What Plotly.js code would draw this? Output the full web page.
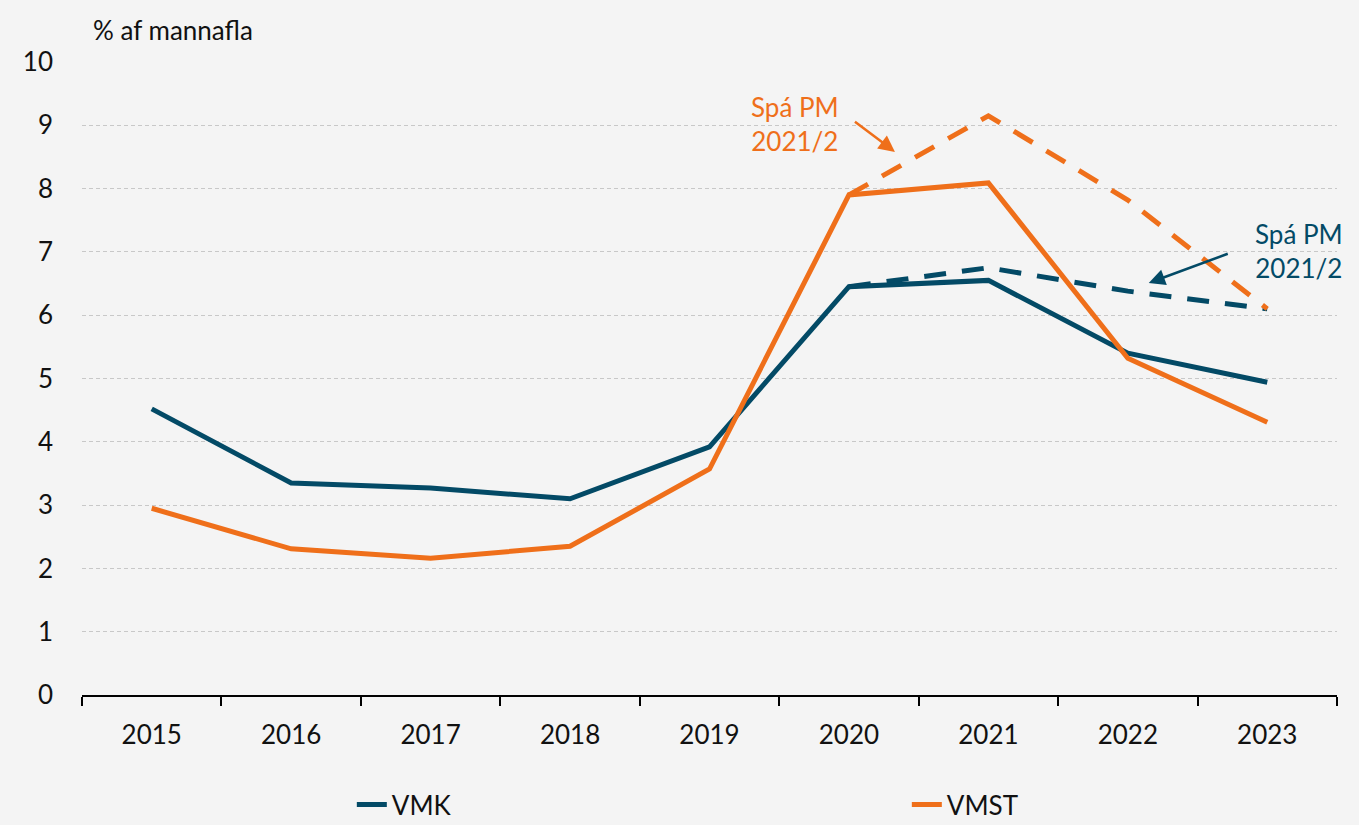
<!DOCTYPE html>
<html>
<head>
<meta charset="utf-8">
<script src="https://cdn.plot.ly/plotly-3.0.1.min.js"></script>
<style>html,body{margin:0;padding:0;background:#f4f4f4;}#chart{width:1359px;height:825px;}</style>
</head>
<body>
<div id="chart"></div>
<script>
const years = ["2015","2016","2017","2018","2019","2020","2021","2022","2023"];
const vmk = [4.52, 3.35, 3.27, 3.10, 3.92, 6.45, 6.55, 5.40, 4.94];
const vmst = [2.95, 2.31, 2.16, 2.35, 3.57, 7.90, 8.09, 5.32, 4.31];
const forecastYears = ["2020","2021","2022","2023"];
const vmkForecast = [6.45, 6.75, 6.38, 6.10];
const vmstForecast = [7.90, 9.15, 7.82, 6.10];
const yTicks = [0,1,2,3,4,5,6,7,8,9,10];

const teal = "#034a66";
const orange = "#ef6f1a";
const font = "Lato, 'Open Sans', sans-serif";

const traces = [
  {x: forecastYears, y: vmkForecast, mode: "lines", line: {color: teal, width: 5, dash: "22px,16px"}, showlegend: false, hoverinfo: "skip"},
  {x: forecastYears, y: vmstForecast, mode: "lines", line: {color: orange, width: 5, dash: "22px,16px"}, showlegend: false, hoverinfo: "skip"},
  {x: years, y: vmk, name: "VMK", mode: "lines", line: {color: teal, width: 5}},
  {x: years, y: vmst, name: "VMST", mode: "lines", line: {color: orange, width: 5}}
];

const layout = {
  width: 1359, height: 825,
  paper_bgcolor: "#f4f4f4", plot_bgcolor: "#f4f4f4",
  margin: {l: 82, r: 22, t: 62, b: 130, autoexpand: false},
  font: {family: font, size: 26, color: "#111"},
  xaxis: {
    type: "category", categoryarray: years, range: [-0.5, 8.5],
    tickson: "boundaries", ticks: "outside", ticklen: 9, tickwidth: 2, tickcolor: "#000",
    showline: true, linecolor: "#000", linewidth: 2, showgrid: false, zeroline: false,
    ticklabelstandoff: 16, tickfont: {size: 26, color: "#111", family: font}
  },
  yaxis: {
    range: [0, 10], tickvals: yTicks, ticktext: yTicks.map(String),
    showgrid: true, gridcolor: "#c8c8c8", griddash: "4px,3px", gridwidth: 1,
    zeroline: false, showline: false, ticks: "", ticklabelstandoff: 28,
    tickfont: {size: 26, color: "#111", family: font}, fixedrange: true
  },
  showlegend: true,
  legend: {
    orientation: "h", x: 0.215, xanchor: "left", y: -0.173, yanchor: "middle",
    entrywidth: 510, entrywidthmode: "pixels", bgcolor: "rgba(0,0,0,0)",
    font: {size: 26, color: "#111", family: font}
  },
  annotations: [
    {xref: "paper", yref: "paper", x: 0.007, y: 1.022, xanchor: "left", yanchor: "bottom",
     text: "% af mannafla", showarrow: false, font: {size: 26, color: "#111", family: font}},
    {x: 4.61, y: 9.02, text: "Spá PM<br>2021/2", showarrow: false, align: "center",
     font: {size: 26, color: orange, family: font}},
    {x: 5.33, y: 8.58, text: " ", showarrow: true, ax: -45, ay: -34, arrowhead: 2, arrowsize: 1.3,
     arrowwidth: 2.5, arrowcolor: orange, standoff: 0, startstandoff: 0},
    {x: 8.23, y: 7.01, text: "Spá PM<br>2021/2", showarrow: false, align: "center",
     font: {size: 26, color: teal, family: font}},
    {x: 7.15, y: 6.51, text: " ", showarrow: true, ax: 84, ay: -31, arrowhead: 2, arrowsize: 1.3,
     arrowwidth: 2.5, arrowcolor: teal, standoff: 0, startstandoff: 0}
  ]
};

Plotly.newPlot("chart", traces, layout, {displayModeBar: false, staticPlot: true});
</script>
</body>
</html>
